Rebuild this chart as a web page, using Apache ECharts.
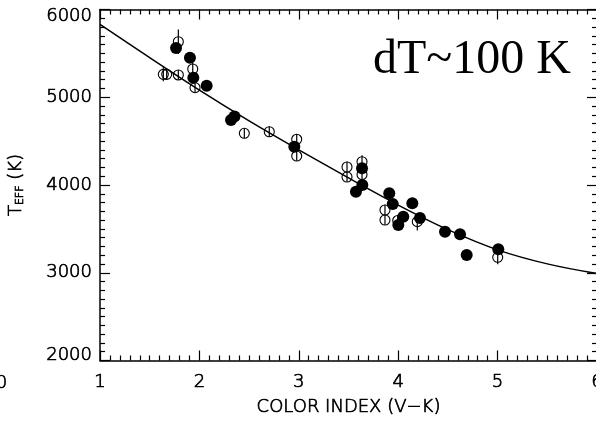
<!DOCTYPE html>
<html><head><meta charset="utf-8">
<script src="https://cdn.jsdelivr.net/npm/echarts@6/dist/echarts.min.js"></script>
<style>html,body{margin:0;padding:0;background:#fff}#c{width:596px;height:423px}</style>
</head><body><div id="c"></div>
<script>
// ---- data ----
const filledX = [1.765,1.905,1.939,2.073,2.318,2.353,2.955,3.575,3.639,3.636,3.910,3.945,4.001,4.051,4.142,4.219,4.471,4.622,4.689,5.007];
const filledT = [5561,5450,5223,5132,4740,4780,4436,3924,4000,4190,3905,3783,3544,3638,3791,3625,3467,3438,3202,3267];
const openX   = [1.788,1.637,1.671,1.788,1.933,1.956,2.452,2.703,2.979,2.979,3.485,3.485,3.636,3.636,3.867,3.867,3.995,4.192,5.001];
const openT   = [5633,5261,5261,5254,5322,5109,4589,4607,4521,4330,4205,4091,4265,4119,3715,3601,3595,3582,3176];
const openErr = [140,80,60,55,70,55,55,60,60,55,60,55,75,55,60,55,55,100,80];
const fitX = [1.0,1.5,2.0,2.5,3.0,3.5,4.0,4.5,5.0,5.5,6.0];
const fitT = [5831,5451,5081,4731,4401,4081,3771,3491,3261,3101,2991];
const xTicks = [1,2,3,4,5,6];
const yTicks = [2000,3000,4000,5000,6000];
const strayLabel = '0';
const noteText = 'dT~100 K';

const chart = echarts.init(document.getElementById('c'), null, {renderer:'canvas'});
const F = 'DejaVu Sans';
const W = 200;
const TB = {textBorderColor:'#000',textBorderWidth:0.7};
const ts = (size)=>Object.assign({fontFamily:F,fontWeight:W,fontSize:size,color:'#000'},TB);
const axisCommon = {
  axisLine:{show:true,onZero:false,lineStyle:{color:'#000',width:1.5}},
  axisTick:{show:true,inside:true,length:10,lineStyle:{color:'#000',width:1.2}},
  minorTick:{show:true,splitNumber:10,length:5,lineStyle:{color:'#000',width:1.2}},
  splitLine:{show:false}
};
const xMin = xTicks[0], xMax = xTicks[xTicks.length-1];
const yMin = yTicks[0], yMax = yTicks[yTicks.length-1];
const option = {
  animation:false,
  backgroundColor:'#fff',
  grid:{left:100,top:9.5,width:497,height:351,outerBoundsMode:'none',containLabel:false},
  xAxis:[
    Object.assign({type:'value',position:'bottom',min:xMin,max:xMax,interval:1,
      name:'COLOR INDEX (V\u2212K)',nameLocation:'middle',nameGap:38,
      nameTextStyle:ts(18),
      axisLabel:Object.assign(ts(18),{show:true,margin:13,showMinLabel:true,showMaxLabel:true,hideOverlap:false})},axisCommon),
    Object.assign({type:'value',position:'top',min:xMin,max:xMax,interval:1,axisLabel:{show:false}},axisCommon)
  ],
  yAxis:[
    Object.assign({type:'value',position:'left',min:yMin,max:yMax,interval:1000,
      name:'{a|T}{s|EFF}{a| (K)}',nameLocation:'middle',nameGap:74,nameRotate:90,
      nameTextStyle:Object.assign(ts(18),{rich:{a:ts(18),s:Object.assign(ts(11),{padding:[8,0,0,0]})}}),
      axisLabel:Object.assign(ts(18),{show:true,margin:8,showMinLabel:true,showMaxLabel:true,hideOverlap:false,
        formatter:function(v){ if(v===yMax) return '{t|'+v+'}'; if(v===yMin) return '{b|'+v+'}'; return String(v); },
        rich:{t:Object.assign(ts(18),{padding:[13,0,0,0]}),b:Object.assign(ts(18),{padding:[0,0,10,0]})}})},axisCommon),
    Object.assign({type:'value',position:'right',min:yMin,max:yMax,interval:1000,axisLabel:{show:false}},axisCommon)
  ],
  series:[
    {type:'line',data:fitX.map((x,i)=>[x,fitT[i]]),smooth:0.35,showSymbol:false,
      lineStyle:{color:'#000',width:1.5},z:2,clip:true},
    {type:'custom',data:openX.map((x,i)=>[x,openT[i]-openErr[i],openT[i]+openErr[i]]),z:3,
      renderItem:function(params,api){
        const p1=api.coord([api.value(0),api.value(1)]);
        const p2=api.coord([api.value(0),api.value(2)]);
        return {type:'line',shape:{x1:p1[0],y1:p1[1],x2:p2[0],y2:p2[1]},style:{stroke:'#000',lineWidth:1.2}};
      }},
    {type:'scatter',data:openX.map((x,i)=>[x,openT[i]]),symbol:'circle',symbolSize:10,z:4,
      itemStyle:{color:'rgba(0,0,0,0)',borderColor:'#000',borderWidth:1.1,opacity:1}},
    {type:'scatter',data:filledX.map((x,i)=>[x,filledT[i]]),symbol:'circle',symbolSize:12,z:5,
      itemStyle:{color:'#000',borderWidth:0,opacity:1}}
  ],
  graphic:[
    {type:'text',x:1.5,y:383,style:{text:strayLabel,font:W+' 18px "DejaVu Sans"',fill:'#000',stroke:'#000',lineWidth:0.7,align:'center',verticalAlign:'middle'}},
    {type:'text',x:373,y:60,style:{text:noteText,fontFamily:'Liberation Serif',fontSize:48,fill:'#000',align:'left',verticalAlign:'middle'}}
  ]
};
chart.setOption(option);
</script></body></html>
